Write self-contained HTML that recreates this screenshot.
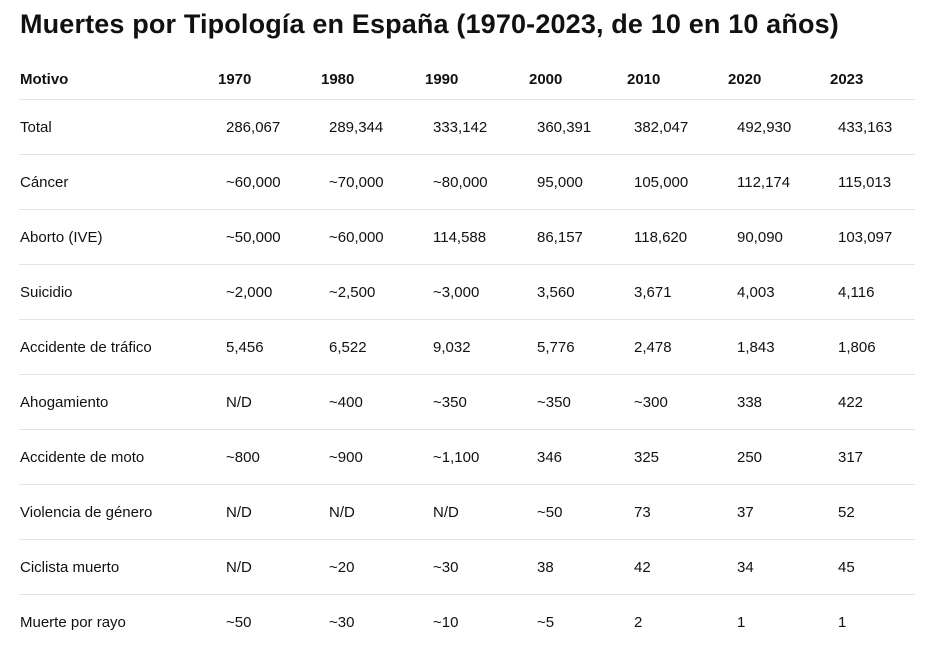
<!DOCTYPE html>
<html><head><meta charset="utf-8"><style>
body{margin:0;width:947px;height:645px;background:#fff;font-family:"Liberation Sans",sans-serif;color:#111;position:relative;overflow:hidden}
h1{position:absolute;left:20px;top:9px;margin:0;font-size:27px;font-weight:bold;white-space:nowrap;letter-spacing:0.15px}
.c{position:absolute;font-size:15px;white-space:nowrap;line-height:18px}
.h{font-weight:bold}
.l{position:absolute;left:19px;width:896px;height:1px;background:#e3e3e3}
</style></head><body>
<h1>Muertes por Tipología en España (1970-2023, de 10 en 10 años)</h1>
<div id="t"></div>
<script>
const headers=["Motivo","1970","1980","1990","2000","2010","2020","2023"];
const rows=[
["Total","286,067","289,344","333,142","360,391","382,047","492,930","433,163"],
["Cáncer","~60,000","~70,000","~80,000","95,000","105,000","112,174","115,013"],
["Aborto (IVE)","~50,000","~60,000","114,588","86,157","118,620","90,090","103,097"],
["Suicidio","~2,000","~2,500","~3,000","3,560","3,671","4,003","4,116"],
["Accidente de tráfico","5,456","6,522","9,032","5,776","2,478","1,843","1,806"],
["Ahogamiento","N/D","~400","~350","~350","~300","338","422"],
["Accidente de moto","~800","~900","~1,100","346","325","250","317"],
["Violencia de género","N/D","N/D","N/D","~50","73","37","52"],
["Ciclista muerto","N/D","~20","~30","38","42","34","45"],
["Muerte por rayo","~50","~30","~10","~5","2","1","1"]];
const hx=[20,218,321,425,529,627,728,830];
const vx=[20,226,329,433,537,634,737,838];
const t=document.getElementById('t');
function cell(txt,x,y,cls,name){const d=document.createElement('div');d.className='c '+cls;d.style.left=x+'px';d.style.top=y+'px';d.textContent=txt;


t.appendChild(d);}
headers.forEach((h,i)=>cell(h,hx[i],71,'h','header-'+h.toLowerCase()));
function line(y){const d=document.createElement('div');d.className='l';d.style.top=y+'px';


t.appendChild(d);}
line(99);
rows.forEach((r,ri)=>{const y=119+ri*55;
r.forEach((v,ci)=>cell(v,vx[ci],y,'','cell-'+ri+'-'+ci));
if(ri<rows.length-1)line(154+ri*55);});
</script>
</body></html>
